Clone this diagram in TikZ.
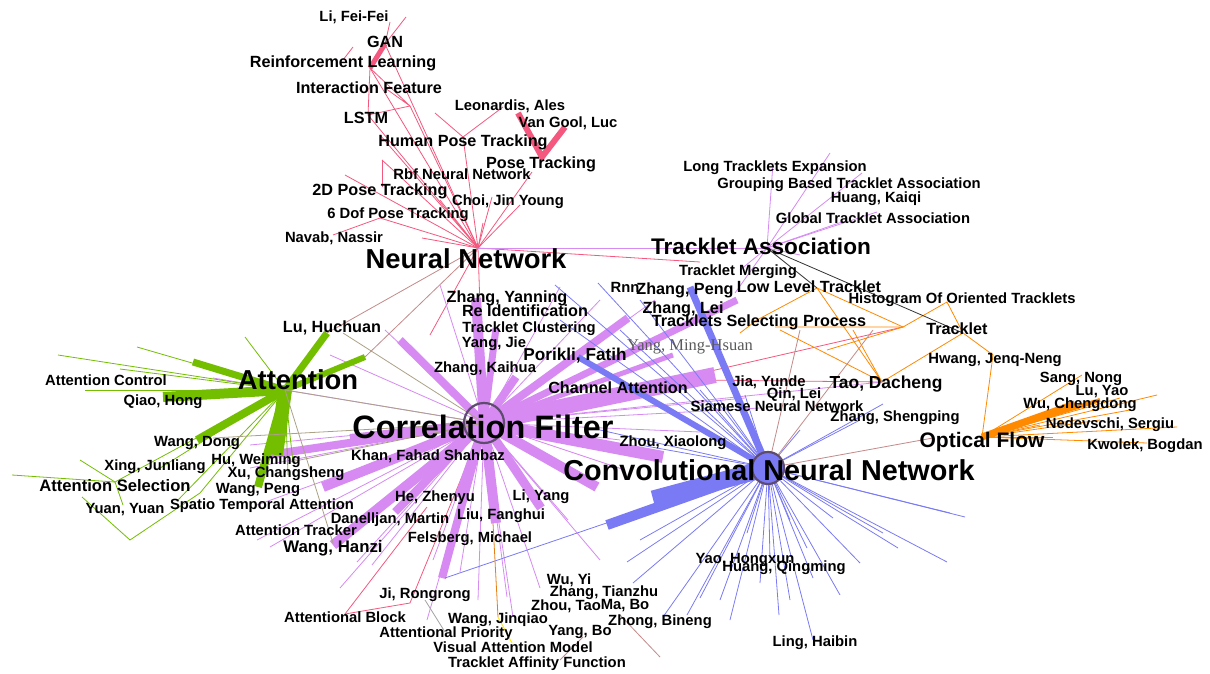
\documentclass[tikz,border=0pt]{standalone}
\usepackage{fontspec}
\setmainfont{Liberation Sans}
\newfontfamily\serifmh{Liberation Serif}

\definecolor{nnred}{HTML}{F4587E}
\definecolor{cflila}{HTML}{D68AF2}
\definecolor{cnnazul}{HTML}{7A7AF4}
\definecolor{ofnaranja}{HTML}{FF8A00}
\definecolor{atverde}{HTML}{74BE00}
\definecolor{olivo}{HTML}{ABA286}
\definecolor{malvac}{HTML}{C48A8A}
\definecolor{hubborde}{HTML}{5E4C6E}

\begin{document}
\begin{tikzpicture}[x=1pt, y=-1pt,
  lbl/.style={font=\fontsize{14.8}{16}\selectfont\bfseries, text=black, inner sep=0pt},
  lblm/.style={font=\fontsize{16.2}{18}\selectfont\bfseries, text=black, inner sep=0pt},
  hublbl/.style={font=\fontsize{#1}{#1}\selectfont\bfseries, text=black, inner sep=0pt},
  rojo/.style={draw=nnred, line width=0.8pt},
  lila/.style={draw=cflila, line width=0.8pt},
  azul/.style={draw=cnnazul, line width=0.8pt},
  naranja/.style={draw=ofnaranja, line width=0.8pt},
  verde/.style={draw=atverde, line width=0.8pt},
  oliva/.style={draw=olivo, line width=0.8pt},
  malva/.style={draw=malvac, line width=0.8pt}]

  % Marco
  \fill[white] (0,0) rectangle (1210,674);
  \useasboundingbox (0,0) rectangle (1210,674);

  % Centros
  \coordinate (nn) at (478,248);
  \coordinate (cf) at (484,423);
  \coordinate (cnn) at (768,468);
  \coordinate (of) at (982,437);
  \coordinate (at) at (285,390);
  \coordinate (ta) at (767,248);
  \coordinate (llt) at (817,288);
  \coordinate (tsp) at (757,320);
  \coordinate (trk) at (963,333);
  \coordinate (hwj) at (993,355);
  \coordinate (tao) at (882,382);
  \coordinate (hist) at (947,302);
  \coordinate (ojt) at (903,327);

  % Neural Network (rojo)
  \foreach \x/\y [count=\i] in {385/44, 370/68, 410/106, 368/115, 380/135, 463/137, 382/160,
      345/175, 532/172, 492/197, 422/238, 380/218, 483/223, 520/205, 440/200}
    \draw[rojo] (nn) -- (\x,\y) coordinate (nne\i);
  \draw[rojo, line width=5pt] (nne1) -- (nne2);
  \draw[rojo, line width=6pt] (518,113) coordinate (vg1) -- (542,157) coordinate (ptk)
    -- (565,127) coordinate (vg2);
  \draw[rojo] (nne1) -- (390,22) coordinate (r1);
  \draw[rojo] (nne1) -- (406,17) coordinate (r2);
  \draw[rojo] (343,60) coordinate (r3) -- (353,47) coordinate (r4);
  \draw[rojo] (nne2) -- (nne3) -- (385,88) coordinate (r5);
  \draw[rojo] (nne4) -- (nne3);
  \draw[rojo] (nne2) -- (nne4);
  \draw[rojo] (435,113) coordinate (r6) -- (nne6) -- (503,107) coordinate (r7);
  \draw[rojo] (nne7) -- (382,187) coordinate (r8);
  \draw[rojo] (nne12) -- (333,235) coordinate (r9);
  \draw[rojo] (nn) -- (cf);
  \draw[rojo] (nn) -- (430,335) coordinate (r10);
  \draw[rojo] (nn) -- (700,262) coordinate (r11);
  \draw[rojo] (cf) -- (410,603) coordinate (r12) -- (345,614) coordinate (r13);
  \draw[rojo] (r13) -- (427,507) coordinate (r14);
  \draw[rojo] (cf) -- (ojt);
  \draw[rojo] (700,380) coordinate (r15) -- (tao);

  % Correlation Filter (lila)
  \foreach \x/\y [count=\i] in {250/468, 257/505, 257/540, 270/547, 340/588, 357/562, 372/565,
      433/560, 460/572, 478/600, 507/597, 513/617, 540/588, 427/620, 568/520, 600/560,
      620/440, 700/432, 745/398, 760/408, 625/470, 440/285, 385/330, 330/355, 213/378,
      600/300, 655/300, 560/287, 250/445, 882/382}
    \draw[lila] (cf) -- (\x,\y) coordinate (cfe\i);
  \foreach \x/\y/\w [count=\i] in {400/340/8, 476/298/10, 496/328/7, 516/377/8, 628/318/8,
      737/300/7, 673/355/5, 715/375/16, 663/457/12, 597/487/10, 541/508/9, 496/523/10,
      458/497/7, 442/578/8, 395/512/8, 333/545/10, 323/487/10, 268/455/8, 350/438/8}
    \draw[lila, line width=\w pt] (cf) -- (\x,\y) coordinate (cfb\i);
  \foreach \x/\y [count=\i] in {830/153, 773/163, 862/173, 877/212, 842/222, 735/293,
      740/270, 800/255}
    \draw[lila] (ta) -- (\x,\y) coordinate (tae\i);
  \draw[lila] (nn) -- (ta);

  % Convolutional Neural Network (azul)
  \foreach \x/\y [count=\i] in {747/533, 760/583, 779/615, 813/640, 807/548, 813/578,
      833/518, 860/563, 883/533, 898/548, 947/562, 950/513, 965/517, 687/615, 700/598,
      663/617, 633/583, 627/562, 640/540, 445/578, 883/404, 860/420, 745/395, 733/380,
      720/400, 700/390, 598/283, 560/320, 620/330, 640/300, 600/430, 640/445, 790/520,
      770/560, 730/620, 720/600, 840/595, 790/600, 555/285, 800/430}
    \draw[azul] (cnn) -- (\x,\y) coordinate (cnne\i);
  \foreach \x/\y/\w [count=\i] in {690/287/7, 578/357/6, 607/525/10, 653/499/17}
    \draw[azul, line width=\w pt] (cnn) -- (\x,\y) coordinate (cnnb\i);
  \draw[malva] (cnn) -- (933,438) coordinate (m1);
  \draw[malva] (cnn) -- (873,330) coordinate (m2);
  \draw[malva] (cnn) -- (800,330) coordinate (m3);
  \draw[malva] (620,615) coordinate (m4) -- (660,657) coordinate (m5);
  \draw[malva] (583,637) coordinate (m6) -- (560,660) coordinate (m7);

  % Optical Flow (naranja)
  \draw[naranja, line width=7pt] (of) -- (1075,404) coordinate (ofw1);
  \draw[naranja, line width=4pt] (of) -- (1100,400) coordinate (ofw2);
  \foreach \x/\y [count=\i] in {1082/375, 1157/395, 1177/427, 1147/443, 1053/437, 1120/398,
      1100/420, 1040/425, 1130/410}
    \draw[naranja] (of) -- (\x,\y) coordinate (ofe\i);
  \draw[naranja] (of) -- (hwj) -- (trk) -- (tao) -- (780,330) coordinate (o1);
  \draw[naranja] (tao) -- (853,330) coordinate (o2);
  \draw[naranja] (tao) -- (llt) -- (ojt) -- (hist) -- (trk);
  \draw[naranja] (740,333) coordinate (o3) -- (tsp) -- (llt);
  \draw[naranja] (775,327) coordinate (o4) -- (ojt) -- (827,350) coordinate (o5);
  \draw[black!80, line width=0.8pt] (ta) -- (trk);
  \draw[black!80, line width=0.8pt] (ta) -- (llt);

  % Attention (verde)
  \foreach \x/\y [count=\i] in {58/355, 137/347, 120/369, 245/337, 115/482, 157/470,
      288/475, 293/462, 178/500, 85/390}
    \draw[verde] (at) -- (\x,\y) coordinate (ate\i);
  \foreach \x/\y/\w [count=\i] in {327/333/7, 365/357/6, 193/362/7, 163/397/10, 197/440/8,
      276/455/14, 258/487/8}
    \draw[verde, line width=\w pt] (at) -- (\x,\y) coordinate (atb\i);
  \draw[verde] (12,475) coordinate (g1) -- (ate5) -- (123,505) coordinate (g2);
  \draw[verde] (80,460) coordinate (g3) -- (ate5);
  \draw[verde] (at) -- (200,493) coordinate (g4) -- (130,540) coordinate (g5)
    -- (82,497) coordinate (g6);
  \draw[oliva] (at) -- (333,543) coordinate (v1);
  \draw[oliva] (213,438) coordinate (v2) -- (cf);
  \draw[oliva] (290,462) coordinate (v3) -- (cf);
  \draw[oliva] (343,333) coordinate (v4) -- (cf);
  \draw[oliva] (at) -- (cf);
  \draw[malva] (atb2) -- (nn);
  \draw[malva] (atb1) -- (nn);
  \draw[draw=orange!60!brown, line width=0.8pt] (493,523) coordinate (y1) -- (498,617) coordinate (y2);
  \draw[draw=yellow!90!orange, line width=0.8pt] (y2) -- (512,643) coordinate (y3);
  \draw[draw=gray!70, line width=0.8pt] (425,600) coordinate (y4) -- (445,632) coordinate (y5);

  % Circulos
  \node[circle, draw=hubborde, line width=2.2pt, minimum size=40pt] (cfhub) at (cf) {};
  \node[circle, draw=hubborde, fill=cnnazul, line width=2.2pt, minimum size=32pt] (cnnhub) at (cnn) {};

  % Etiquetas rojas
  \node[lbl] (lifeifei) at (354,17) {Li, Fei-Fei};
  \node[lblm] (gan) at (385,42) {GAN};
  \node[lblm] (reinf) at (343,63) {Reinforcement Learning};
  \node[lblm] (interac) at (369,88) {Interaction Feature};
  \node[lblm] (lstm) at (366,118) {LSTM};
  \node[lbl] (leonardis) at (510,106) {Leonardis, Ales};
  \node[lbl] (vangool) at (568,123) {Van Gool, Luc};
  \node[lblm] (hpt) at (463,142) {Human Pose Tracking};
  \node[lblm] (posetrk) at (541,164) {Pose Tracking};
  \node[lbl] (rbf) at (462,174) {Rbf Neural Network};
  \node[lblm] (pose2d) at (380,191) {2D Pose Tracking};
  \node[lbl] (choi) at (508,202) {Choi, Jin Young};
  \node[lbl] (dof6) at (398,215) {6 Dof Pose Tracking};
  \node[lbl] (navab) at (334,238) {Navab, Nassir};
  \node[hublbl=27.4] (nnlbl) at (466,259) {Neural Network};

  % Etiquetas lila
  \node[lbl] (ltexp) at (775,168) {Long Tracklets Expansion};
  \node[lbl] (grouping) at (849,185) {Grouping Based Tracklet Association};
  \node[lbl] (huangk) at (876,199) {Huang, Kaiqi};
  \node[lbl] (globalta) at (873,218) {Global Tracklet Association};
  \node[hublbl=22.6] (talbl) at (761,246) {Tracklet Association};
  \node[lbl] (tmerg) at (738,272) {Tracklet Merging};
  \node[lbl] (rnn) at (625,287) {Rnn};
  \node[lblm] (zpeng) at (685,290) {Zhang, Peng};
  \node[lblm] (lowlvl) at (809,287) {Low Level Tracklet};
  \node[lbl] (histo) at (962,300) {Histogram Of Oriented Tracklets};
  \node[lblm] (zlei) at (683,309) {Zhang, Lei};
  \node[lblm] (tsplbl) at (759,322) {Tracklets Selecting Process};
  \node[lblm] (trklbl) at (957,329) {Tracklet};
  \node[lblm] (zyanning) at (507,298) {Zhang, Yanning};
  \node[lblm] (reid) at (525,311) {Re Identification};
  \node[lbl] (tclust) at (529,329) {Tracklet Clustering};
  \node[lbl] (yangjie) at (494,344) {Yang, Jie};
  \node[font=\serifmh\fontsize{16.5}{18}\selectfont, text=black!65, inner sep=0pt] (yangmh) at (690,347) {Yang, Ming-Hsuan};
  \node[hublbl=17.2] (porikli) at (575,356) {Porikli, Fatih};
  \node[lbl] (zkaihua) at (485,369) {Zhang, Kaihua};
  \node[lblm] (chatt) at (618,388) {Channel Attention};
  \node[hublbl=32.4] (cflbl) at (483,427) {Correlation Filter};
  \node[lbl] (khan) at (428,456) {Khan, Fahad Shahbaz};
  \node[lbl] (zhoux) at (673,443) {Zhou, Xiaolong};
  \node[lbl] (hezy) at (435,498) {He, Zhenyu};
  \node[lbl] (liyang) at (541,497) {Li, Yang};
  \node[lbl] (danell) at (390,520) {Danelljan, Martin};
  \node[lbl] (liufh) at (501,516) {Liu, Fanghui};
  \node[lbl] (felsb) at (470,539) {Felsberg, Michael};
  \node[lbl] (atttrk) at (296,530) {Attention Tracker};
  \node[hublbl=16.8] (wanghz) at (333,548) {Wang, Hanzi};
  \node[lbl] (jirr) at (425,595) {Ji, Rongrong};
  \node[lbl] (attblk) at (345,617) {Attentional Block};
  \node[lbl] (wangjq) at (498,620) {Wang, Jinqiao};
  \node[lbl] (attprio) at (446,634) {Attentional Priority};
  \node[lbl] (visatt) at (513,647) {Visual Attention Model};
  \node[lbl] (taff) at (537,664) {Tracklet Affinity Function};
  \node[lbl] (wuyi) at (569,580) {Wu, Yi};
  \node[lbl] (ztz) at (604,593) {Zhang, Tianzhu};
  \node[lbl] (zhout) at (566,606) {Zhou, Tao};
  \node[lbl] (mabo) at (625,606) {Ma, Bo};
  \node[lbl] (yangbo) at (580,632) {Yang, Bo};
  \node[lbl] (zhongb) at (660,622) {Zhong, Bineng};

  % Etiquetas azules
  \node[hublbl=28.8] (cnnlbl) at (769,470) {Convolutional Neural Network};
  \node[lbl] (jiayd) at (769,382) {Jia, Yunde};
  \node[lbl] (qinl) at (794,395) {Qin, Lei};
  \node[lbl] (siam) at (777,406) {Siamese Neural Network};
  \node[hublbl=17.4] (taodc) at (886,384) {Tao, Dacheng};
  \node[lbl] (zsp) at (895,418) {Zhang, Shengping};
  \node[lbl] (yaohx) at (745,560) {Yao, Hongxun};
  \node[lbl] (huangqm) at (784,568) {Huang, Qingming};
  \node[lbl] (linghb) at (815,643) {Ling, Haibin};

  % Etiquetas naranjas
  \node[lbl] (hwang) at (995,360) {Hwang, Jenq-Neng};
  \node[lbl] (sangn) at (1081,379) {Sang, Nong};
  \node[lbl] (luyao) at (1102,392) {Lu, Yao};
  \node[lbl] (wucd) at (1080,405) {Wu, Chengdong};
  \node[lbl] (nedev) at (1110,425) {Nedevschi, Sergiu};
  \node[hublbl=21] (oflbl) at (982,442) {Optical Flow};
  \node[lbl] (kwolek) at (1145,446) {Kwolek, Bogdan};

  % Etiquetas verdes
  \node[lblm] (luhc) at (332,328) {Lu, Huchuan};
  \node[hublbl=27.4] (atlbl) at (298,380) {Attention};
  \node[lbl] (attctrl) at (106,380) {Attention Control};
  \node[lbl] (qiaoh) at (163,402) {Qiao, Hong};
  \node[lbl] (wangd) at (197,443) {Wang, Dong};
  \node[lbl] (xingjl) at (155,467) {Xing, Junliang};
  \node[lbl] (huwm) at (256,461) {Hu, Weiming};
  \node[lbl] (xucs) at (286,474) {Xu, Changsheng};
  \node[hublbl=16.6] (attsel) at (115,486) {Attention Selection};
  \node[lbl] (wangp) at (258,490) {Wang, Peng};
  \node[lbl] (spatio) at (262,506) {Spatio Temporal Attention};
  \node[lbl] (yuany) at (125,510) {Yuan, Yuan};

\end{tikzpicture}
\end{document}
